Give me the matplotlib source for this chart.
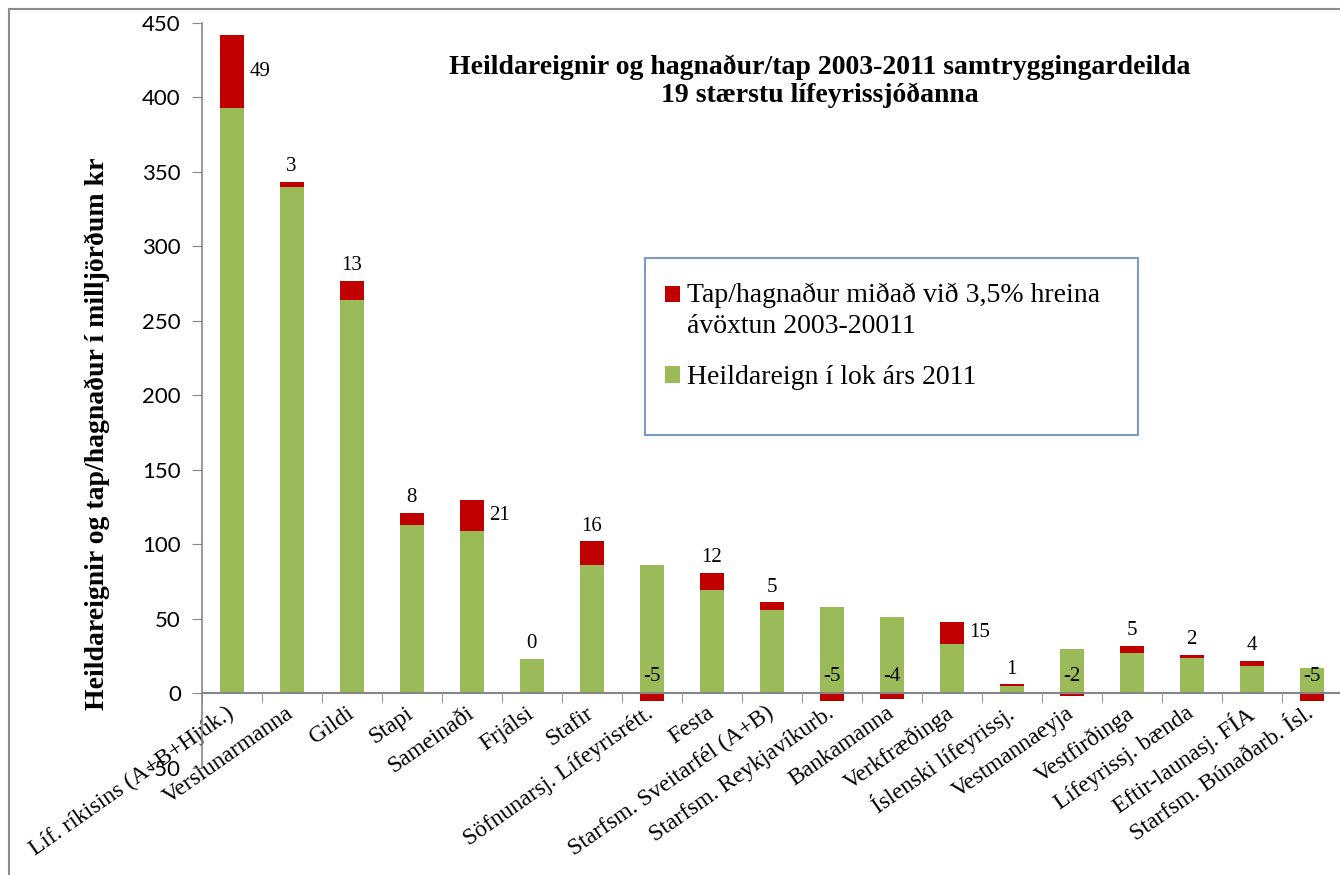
import numpy as np
import matplotlib
matplotlib.use("Agg")
import matplotlib.pyplot as plt
from matplotlib.patches import Rectangle, Patch

categories = ["Líf. ríkisins (A+B+Hjúk.)", "Verslunarmanna", "Gildi", "Stapi", "Sameinaði",
              "Frjálsi", "Stafir", "Söfnunarsj. Lífeyrisrétt.", "Festa",
              "Starfsm. Sveitarfél (A+B)", "Starfsm. Reykjavíkurb.", "Bankamanna",
              "Verkfræðinga", "Íslenski lífeyrissj.", "Vestmannaeyja", "Vestfirðinga",
              "Lífeyrissj. bænda", "Eftir-launasj. FÍA", "Starfsm. Búnaðarb. Ísl."]
heildareign = [393, 340, 264, 113, 109, 23, 86, 86, 69, 56, 58, 51, 33, 5, 30, 27, 24, 18, 17]
hagnadur = [49, 3, 13, 8, 21, 0, 16, -5, 12, 5, -5, -4, 15, 1, -2, 5, 2, 4, -5]
yticks = [-50, 0, 50, 100, 150, 200, 250, 300, 350, 400, 450]

title = "Heildareignir og hagnaður/tap 2003-2011 samtryggingardeilda\n19 stærstu lífeyrissjóðanna"
ylabel = "Heildareignir og tap/hagnaður í milljörðum kr"
legend_red = "Tap/hagnaður miðað við 3,5% hreina\návöxtun 2003-20011"
legend_green = "Heildareign í lok árs 2011"

GREEN = "#9BBB59"
RED = "#C00000"
GREY = "#868686"
SERIF = ["Liberation Serif", "DejaVu Serif"]
SANS = ["Lato", "DejaVu Sans"]
side_labels = {0, 4, 12}  # labels drawn to the right of the bar

W, H = 1340, 875
fig = plt.figure(figsize=(W / 100, H / 100), dpi=100)
left_px, right_px, top_px, bot_px = 201.7, 1341.5, 22.7, 767.8
ax = fig.add_axes([left_px / W, 1 - bot_px / H, (right_px - left_px) / W, (bot_px - top_px) / H])

g = np.array(heildareign, dtype=float)
r = np.array(hagnadur, dtype=float)
x = np.arange(len(categories))
bw = 0.4
ax.bar(x, g, width=bw, color=GREEN, zorder=2)
ax.bar(x, r, width=bw, bottom=np.where(r >= 0, g, 0), color=RED, zorder=2)

LFS = 15
for i in range(len(x)):
    val = int(r[i])
    if i in side_labels:
        ax.annotate(str(val), (x[i] + bw / 2, g[i] + r[i] / 2), xytext=(4, 0),
                    textcoords="offset points", ha="left", va="center",
                    fontsize=LFS, family=SERIF)
    elif val < 0:
        ax.annotate(str(val), (x[i], 0), xytext=(0, 12), textcoords="offset points",
                    ha="center", va="center", fontsize=LFS, family=SERIF)
    else:
        ax.annotate(str(val), (x[i], g[i] + r[i]), xytext=(0, 11), textcoords="offset points",
                    ha="center", va="center", fontsize=LFS, family=SERIF)

ax.set_xlim(-0.5, len(x) - 0.5)
ax.set_ylim(-50, 450)
ax.set_yticks(yticks)
ax.set_yticklabels([str(v) for v in yticks], family=SANS, fontsize=16)
for s in ["top", "right"]:
    ax.spines[s].set_visible(False)
ax.spines["left"].set_color(GREY)
ax.spines["left"].set_linewidth(1.2)
ax.spines["bottom"].set_position(("data", 0))
ax.spines["bottom"].set_color(GREY)
ax.spines["bottom"].set_linewidth(1.5)
ax.tick_params(axis="y", direction="out", length=7, color=GREY, pad=8)
ax.set_xticks(x)
ax.set_xticks(np.arange(-0.5, len(x), 1.0), minor=True)
ax.tick_params(axis="x", which="major", length=0, pad=13)
ax.tick_params(axis="x", which="minor", length=7, direction="out", color=GREY)
ax.set_xticklabels(categories, rotation=35, ha="right", va="center",
                   rotation_mode="anchor", family=SERIF, fontsize=17)

fig.text(820 / W, 1 - 81 / H, title, ha="center", va="center", fontsize=20,
         fontweight="bold", family=SERIF, linespacing=1.1)
fig.text(97 / W, 1 - 434 / H, ylabel, rotation=90, ha="center", va="center",
         fontsize=20, fontweight="bold", family=SERIF)

# legend box
lx0, ly0, lx1, ly1 = 645, 258, 1138, 435
fig.patches.append(Rectangle((lx0 / W, 1 - ly1 / H), (lx1 - lx0) / W, (ly1 - ly0) / H,
                             transform=fig.transFigure, facecolor="white",
                             edgecolor="#7F9BC4", linewidth=1.5, zorder=3))
handles = [Patch(facecolor=RED), Patch(facecolor=GREEN)]
leg = fig.legend(handles, [legend_red, legend_green], loc="upper left",
                 bbox_to_anchor=(640 / W, 1 - 258 / H), frameon=False,
                 prop={"family": SERIF, "size": 20}, handlelength=0.55, handleheight=0.55,
                 handletextpad=0.25, labelspacing=0.95)
for t in leg.get_texts():
    t.set_linespacing(1.3)
rh = leg.legend_handles[0]
rh.set_y(rh.get_y() + 12)
leg.set_zorder(4)

# outer chart border
fig.patches.append(Rectangle((9 / W, -0.05), 1.2, 1 - 9 / H + 0.05,
                             transform=fig.transFigure, facecolor="none",
                             edgecolor="#8C8C8C", linewidth=1.5, zorder=0))

fig.savefig("out.png", dpi=100)
